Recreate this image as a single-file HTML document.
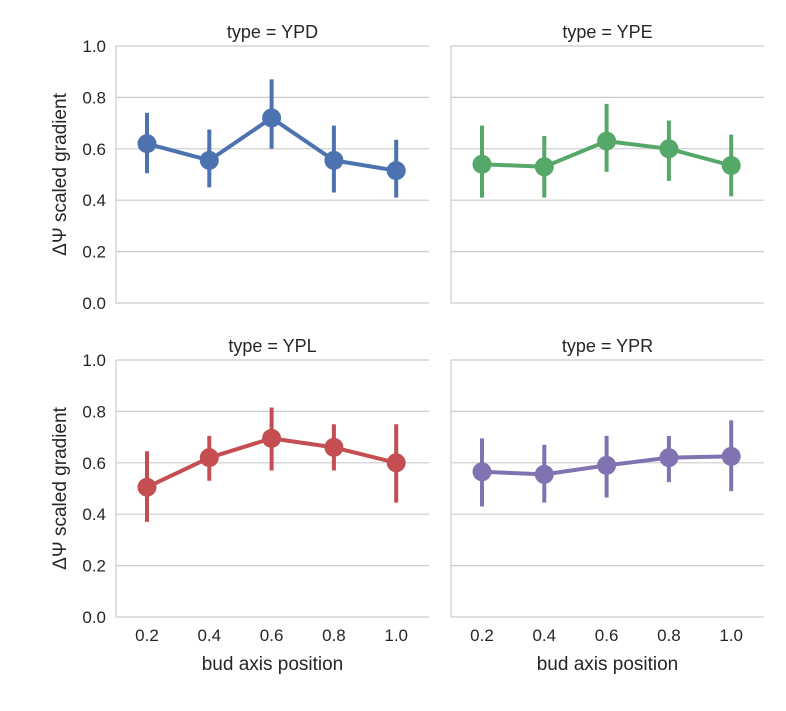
<!DOCTYPE html>
<html><head><meta charset="utf-8"><style>
body{margin:0;background:#fff}
svg text{font-family:"Liberation Sans","DejaVu Sans",sans-serif;fill:#262626}
</style></head><body>
<svg id="chart" width="786" height="706" xmlns="http://www.w3.org/2000/svg"></svg>
<script>
const categories=[0.2,0.4,0.6,0.8,1.0];
const yTicks=[0.0,0.2,0.4,0.6,0.8,1.0];
const panelTitles=["type = YPD","type = YPE","type = YPL","type = YPR"];
const colors=["#4c72b0","#55a868","#c44e52","#8172b2"];
const meanYPD=[0.62,0.555,0.72,0.555,0.515];
const lowYPD=[0.505,0.45,0.6,0.43,0.41];
const highYPD=[0.74,0.675,0.87,0.69,0.635];
const meanYPE=[0.54,0.53,0.63,0.6,0.535];
const lowYPE=[0.41,0.41,0.51,0.475,0.415];
const highYPE=[0.69,0.65,0.775,0.71,0.655];
const meanYPL=[0.505,0.62,0.695,0.66,0.6];
const lowYPL=[0.37,0.53,0.57,0.57,0.445];
const highYPL=[0.645,0.705,0.815,0.75,0.75];
const meanYPR=[0.565,0.555,0.59,0.62,0.625];
const lowYPR=[0.43,0.445,0.465,0.525,0.49];
const highYPR=[0.695,0.67,0.705,0.705,0.765];
const means=[meanYPD,meanYPE,meanYPL,meanYPR];
const lows=[lowYPD,lowYPE,lowYPL,lowYPR];
const highs=[highYPD,highYPE,highYPL,highYPR];

const svg=document.getElementById('chart');
const NS="http://www.w3.org/2000/svg";
function mk(tag,attrs,parent){const e=document.createElementNS(NS,tag);for(const k in attrs)e.setAttribute(k,attrs[k]);(parent||svg).appendChild(e);return e;}
const panels=[{x:116,y:46},{x:451,y:46},{x:116,y:360},{x:451,y:360}];
const W=313,H=257;
panels.forEach((p,i)=>{
  const g=mk('g',{});
  
  
  const yS=v=>p.y+H-v*H;
  const xS=j=>p.x+31+j*62.3;
  yTicks.forEach(t=>{
    if(t>0){const l=mk('line',{x1:p.x,x2:p.x+W,y1:yS(t),y2:yS(t),stroke:'#cccccc','stroke-width':1.2},g);
      }
    if(i%2===0){const tx=mk('text',{x:p.x-10,y:yS(t)+6,'text-anchor':'end','font-size':17},g);tx.textContent=t.toFixed(1);
      }
  });
  const sp=mk('path',{d:`M${p.x} ${p.y}V${p.y+H}H${p.x+W}`,fill:'none',stroke:'#cccccc','stroke-width':1.2},g);
  
  const ti=mk('text',{x:p.x+W/2,y:p.y-8,'text-anchor':'middle','font-size':18},g);ti.textContent=panelTitles[i];
  
  if(i>=2){categories.forEach((c,j)=>{const tx=mk('text',{x:xS(j),y:p.y+H+24,'text-anchor':'middle','font-size':17},g);tx.textContent=c.toFixed(1);
    });
    const xl=mk('text',{x:p.x+W/2,y:p.y+H+53,'text-anchor':'middle','font-size':19},g);xl.textContent='bud axis position';
    }
  if(i%2===0){const cy=p.y+H/2;const yl=mk('text',{x:66,y:cy,'text-anchor':'middle','font-size':19,transform:`rotate(-90 66 ${cy})`},g);yl.textContent='ΔΨ scaled gradient';
    }
  const col=colors[i];
  categories.forEach((c,j)=>{const e=mk('line',{x1:xS(j),x2:xS(j),y1:yS(lows[i][j]),y2:yS(highs[i][j]),stroke:col,'stroke-width':4},g);
    });
  const pl=mk('polyline',{points:means[i].map((v,j)=>xS(j)+','+yS(v)).join(' '),fill:'none',stroke:col,'stroke-width':4,'stroke-linejoin':'round'},g);
  
  means[i].forEach((v,j)=>{const m=mk('circle',{cx:xS(j),cy:yS(v),r:9.5,fill:col},g);
    });
});
</script>
</body></html>
